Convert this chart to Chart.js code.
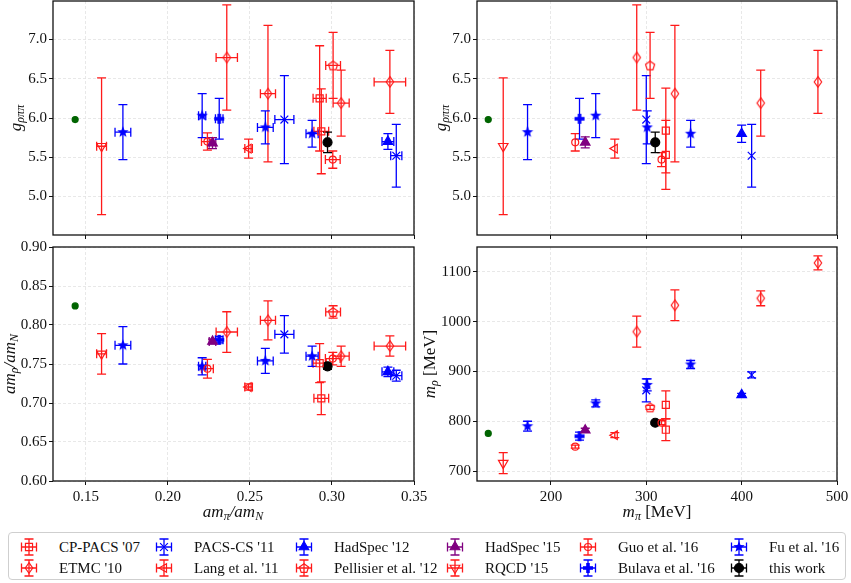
<!DOCTYPE html>
<html>
<head>
<meta charset="utf-8">
<script src="https://cdn.jsdelivr.net/npm/chart.js"></script>
<style>
  body { margin: 0; background: #fff; }
  #wrap { position: relative; width: 851px; height: 583px; overflow: hidden; font-family: "Liberation Serif", serif; }
  #wrap canvas.panel { position: absolute; }
  #legend { position: absolute; left: 8px; top: 532px; width: 838px; height: 48px; border: 1px solid #cfcfcf; border-radius: 4px; box-sizing: border-box; }
  .item { position: absolute; height: 22px; font-size: 15px; line-height: 22px; color: #111; white-space: nowrap; }
  .item canvas { position: absolute; left: 0; top: 0; }
  .item span { position: absolute; left: 42px; top: 0; }
</style>
</head>
<body>
<div id="wrap">
  <canvas class="panel" id="tl" width="420" height="240" style="left:0;top:0"></canvas>
  <canvas class="panel" id="tr" width="431" height="240" style="left:420px;top:0"></canvas>
  <canvas class="panel" id="bl" width="440" height="285" style="left:0;top:240px"></canvas>
  <canvas class="panel" id="br" width="431" height="285" style="left:420px;top:240px"></canvas>
  <div id="legend"></div>
</div>
<script>
// columns: m_pi [MeV], am_pi/am_N, err, g (left), err, g (right), err, am_rho/am_N, err, m_rho [MeV], err
const cpPacs07 = [
  [320.5, 0.2925, 0.0040, 6.25, 0.67, 5.84, 0.54, 0.751, 0.025, 833, 28],
  [320.5, 0.2935, 0.0045, 5.83, 0.54, 5.53, 0.44, 0.706, 0.021, 783, 22]
];
const etmc10 = [
  [290, 0.2359, 0.0065, 6.77, 0.67, 6.77, 0.67, 0.791, 0.026, 980, 31],
  [330, 0.2610, 0.0046, 6.31, 0.87, 6.31, 0.87, 0.806, 0.025, 1033, 31],
  [420, 0.3056, 0.0049, 6.19, 0.42, 6.19, 0.42, 0.760, 0.013, 1047, 15],
  [480, 0.3353, 0.0096, 6.46, 0.40, 6.46, 0.40, 0.773, 0.013, 1118, 14]
];
const pacsCs11 = [
  [300, 0.2710, 0.0058, 5.98, 0.56, 5.98, 0.56, 0.788, 0.024, 862, 23],
  [410.5, 0.3392, 0.0034, 5.52, 0.40, 5.52, 0.40, 0.735, 0.007, 893, 6]
];
const lang11 = [
  [267, 0.2492, 0.0023, 5.61, 0.12, 5.61, 0.12, 0.7205, 0.004, 772, 5]
];
const hadSpec12 = [
  [400, 0.3341, 0.0036, 5.70, 0.10, 5.80, 0.11, 0.740, 0.006, 853, 3]
];
const pellisier12 = [
  [304, 0.3007, 0.0045, 6.67, 0.42, 6.67, 0.42, 0.8167, 0.008, 828, 4]
];
const hadSpec15 = [
  [236, 0.2272, 0.0020, 5.68, 0.07, 5.69, 0.07, 0.779, 0.003, 782, 4]
];
const rqcd15 = [
  [150, 0.1596, 0.0030, 5.64, 0.87, 5.64, 0.87, 0.763, 0.026, 716, 21]
];
const guo16 = [
  [225.5, 0.2241, 0.0036, 5.70, 0.11, 5.69, 0.11, 0.744, 0.012, 749, 3],
  [316, 0.3005, 0.0045, 5.47, 0.11, 5.47, 0.09, 0.757, 0.008, 797, 4]
];
const bulava16 = [
  [230, 0.2313, 0.0023, 5.99, 0.26, 5.99, 0.26, 0.781, 0.004, 770, 8]
];
const fu16 = [
  [175.5, 0.1726, 0.0048, 5.82, 0.35, 5.82, 0.35, 0.774, 0.024, 790, 10],
  [247, 0.2209, 0.0022, 6.03, 0.28, 6.03, 0.28, 0.747, 0.011, 836, 7],
  [301, 0.2594, 0.0048, 5.88, 0.21, 5.88, 0.21, 0.754, 0.016, 873, 12],
  [346.5, 0.2879, 0.0037, 5.80, 0.17, 5.80, 0.17, 0.760, 0.013, 914, 8]
];
const thisWork = [
  [309.4, 0.2973, 0.0010, 5.69, 0.13, 5.69, 0.13, 0.747, 0.004, 797, 3]
];
const physPoint = [
  [134.3, 0.1435, 0, 5.98, 0, 5.98, 0, 0.8244, 0, 775.5, 0]
];

const ratioTicks = [0.15, 0.20, 0.25, 0.30, 0.35];
const mPiTicks = [200, 300, 400, 500];
const gTicks = [5.0, 5.5, 6.0, 6.5, 7.0];
const rhoRatioTicks = [0.60, 0.65, 0.70, 0.75, 0.80, 0.85, 0.90];
const mRhoTicks = [700, 800, 900, 1000, 1100];

const RED = '#ff1a1a', BLUE = '#0000ff', PURPLE = '#800080', BLACK = '#000000', GREEN = '#006400';
const FONT = '"Liberation Serif", "DejaVu Serif", serif';

// marker images for shapes chart.js does not have
function markerCanvas(size, draw) {
  const c = document.createElement('canvas');
  c.width = size; c.height = size;
  draw(c.getContext('2d'), size / 2);
  return c;
}
const starMark = markerCanvas(14, (g, c) => {
  g.beginPath();
  for (let i = 0; i < 10; i++) {
    const r = i % 2 ? 2.6 : 6, a = -Math.PI / 2 + i * Math.PI / 5;
    g.lineTo(c + r * Math.cos(a), c + r * Math.sin(a));
  }
  g.closePath(); g.fillStyle = BLUE; g.fill();
});
const plusMark = markerCanvas(14, (g, c) => {
  const a = 5, b = 1.8;
  g.fillStyle = BLUE;
  g.fillRect(c - a, c - b, 2 * a, 2 * b);
  g.fillRect(c - b, c - a, 2 * b, 2 * a);
});
const pentMark = markerCanvas(14, (g, c) => {
  g.beginPath();
  for (let i = 0; i < 5; i++) {
    const a = -Math.PI / 2 + i * 2 * Math.PI / 5;
    g.lineTo(c + 4.8 * Math.cos(a), c + 0.5 + 4.8 * Math.sin(a));
  }
  g.closePath(); g.strokeStyle = RED; g.lineWidth = 1.2; g.stroke();
});
const diamMark = markerCanvas(14, (g, c) => {
  g.beginPath();
  g.moveTo(c, c - 5.3); g.lineTo(c + 3.7, c); g.lineTo(c, c + 5.3); g.lineTo(c - 3.7, c);
  g.closePath(); g.strokeStyle = RED; g.lineWidth = 1.2; g.stroke();
});

const groups = [
  { label: "CP-PACS '07", rows: cpPacs07, color: RED, style: 'rect', radius: 5, open: true },
  { label: "ETMC '10", rows: etmc10, color: RED, style: diamMark, radius: 5, open: true },
  { label: "PACS-CS '11", rows: pacsCs11, color: BLUE, style: 'crossRot', radius: 5.5, open: true },
  { label: "Lang et al. '11", rows: lang11, color: RED, style: 'triangle', rot: -90, radius: 5, open: true },
  { label: "HadSpec '12", rows: hadSpec12, color: BLUE, style: 'triangle', radius: 5.5 },
  { label: "Pellisier et al. '12", rows: pellisier12, color: RED, style: pentMark, radius: 5, open: true },
  { label: "HadSpec '15", rows: hadSpec15, color: PURPLE, style: 'triangle', radius: 5.5 },
  { label: "RQCD '15", rows: rqcd15, color: RED, style: 'triangle', rot: 180, radius: 5.5, open: true },
  { label: "Guo et al. '16", rows: guo16, color: RED, style: 'circle', radius: 3.5, open: true },
  { label: "Bulava et al. '16", rows: bulava16, color: BLUE, style: plusMark, radius: 5 },
  { label: "Fu et al. '16", rows: fu16, color: BLUE, style: starMark, radius: 5 },
  { label: "this work", rows: thisWork, color: BLACK, style: 'circle', radius: 4.5 },
  { label: "", rows: physPoint, color: GREEN, style: 'circle', radius: 3 }
];

function makeDatasets(xi, xei, yi, yei) {
  return groups.map(gr => ({
    label: gr.label,
    data: gr.rows.map(r => ({ x: r[xi], y: r[yi], xErr: xei == null ? 0 : r[xei], yErr: r[yei] })),
    pointStyle: gr.style,
    pointRotation: gr.rot || 0,
    pointRadius: gr.radius,
    pointBorderWidth: 1.2,
    borderColor: gr.color,
    backgroundColor: gr.open ? 'rgba(0,0,0,0)' : gr.color,
    showLine: false
  }));
}

const errorBars = {
  id: 'errorBars',
  beforeDatasetsDraw(chart) {
    const ctx = chart.ctx, xs = chart.scales.x, ys = chart.scales.y, cap = 4.5;
    chart.data.datasets.forEach((ds, i) => {
      if (!chart.isDatasetVisible(i)) return;
      ctx.save();
      ctx.strokeStyle = ds.borderColor;
      ctx.lineWidth = 1.3;
      ds.data.forEach(p => {
        const px = xs.getPixelForValue(p.x), py = ys.getPixelForValue(p.y);
        ctx.beginPath();
        if (p.yErr) {
          const y1 = ys.getPixelForValue(p.y + p.yErr), y2 = ys.getPixelForValue(p.y - p.yErr);
          ctx.moveTo(px, y1); ctx.lineTo(px, y2);
          ctx.moveTo(px - cap, y1); ctx.lineTo(px + cap, y1);
          ctx.moveTo(px - cap, y2); ctx.lineTo(px + cap, y2);
        }
        if (p.xErr) {
          const x1 = xs.getPixelForValue(p.x - p.xErr), x2 = xs.getPixelForValue(p.x + p.xErr);
          ctx.moveTo(x1, py); ctx.lineTo(x2, py);
          ctx.moveTo(x1, py - cap); ctx.lineTo(x1, py + cap);
          ctx.moveTo(x2, py - cap); ctx.lineTo(x2, py + cap);
        }
        ctx.stroke();
      });
      ctx.restore();
    });
  }
};

function drawMath(ctx, segs, x, y, rotate) {
  ctx.save();
  ctx.translate(x, y);
  if (rotate) ctx.rotate(-Math.PI / 2);
  ctx.fillStyle = '#111';
  ctx.textBaseline = 'middle';
  const fontOf = s => (s[1] ? 'italic ' : '') + (s[2] ? '12px ' : '17px ') + FONT;
  let w = 0;
  const widths = segs.map(s => { ctx.font = fontOf(s); const m = ctx.measureText(s[0]).width; w += m; return m; });
  let cx = -w / 2;
  segs.forEach((s, i) => {
    ctx.font = fontOf(s);
    ctx.fillText(s[0], cx, s[2] ? 4 : 0);
    cx += widths[i];
  });
  ctx.restore();
}

const frameAndTitles = {
  id: 'frameAndTitles',
  afterDraw(chart, args, opts) {
    const ctx = chart.ctx, a = chart.chartArea;
    ctx.save();
    ctx.strokeStyle = '#111';
    ctx.lineWidth = 1.3;
    ctx.strokeRect(a.left, a.top, a.right - a.left, a.bottom - a.top);
    ctx.restore();
    if (opts.yTitle) drawMath(ctx, opts.yTitle, opts.yPos[0], opts.yPos[1], true);
    if (opts.xTitle) drawMath(ctx, opts.xTitle, opts.xPos[0], opts.xPos[1], false);
  }
};

function axis(min, max, ticks, digits, showLabels, size, isX) {
  return {
    type: 'linear', min: min, max: max,
    afterBuildTicks: s => { s.ticks = ticks.map(v => ({ value: v })); },
    afterFit: s => {
      if (isX) s.height = size; else s.width = size;
      // the plot box is fixed by layout padding, not by label overflow
      s.paddingTop = 0; s.paddingBottom = 0; s.paddingLeft = 0; s.paddingRight = 0;
    },
    ticks: {
      display: showLabels,
      color: '#111',
      padding: isX ? 3 : 2,
      font: { family: FONT, size: 15 },
      callback: v => v.toFixed(digits)
    },
    grid: { color: '#e2e2e2', lineWidth: 0.8, tickColor: '#111', tickLength: 4, tickWidth: 1, tickBorderDash: [] },
    border: { display: false, dash: [3, 2] }
  };
}

const gLabel = [['g', 1, 0], ['ρππ', 1, 1]];
const rhoRatioLabel = [['am', 1, 0], ['ρ', 1, 1], ['/am', 1, 0], ['N', 1, 1]];
const mRhoLabel = [['m', 1, 0], ['ρ', 1, 1], [' [MeV]', 0, 0]];
const ratioLabel = [['am', 1, 0], ['π', 1, 1], ['/am', 1, 0], ['N', 1, 1]];
const mPiLabel = [['m', 1, 0], ['π', 1, 1], [' [MeV]', 0, 0]];

function panel(id, datasets, xAxis, yAxis, padding, titles) {
  new Chart(document.getElementById(id), {
    type: 'scatter',
    data: { datasets: datasets },
    options: {
      responsive: false,
      animation: false,
      layout: { padding: padding, autoPadding: false },
      scales: { x: xAxis, y: yAxis },
      plugins: { legend: { display: false }, tooltip: { enabled: false }, frameAndTitles: titles }
    },
    plugins: [errorBars, frameAndTitles]
  });
}

panel('tl', makeDatasets(1, 2, 3, 4),
  axis(0.13, 0.35, ratioTicks, 2, false, 5, true),
  axis(4.51, 7.49, gTicks, 1, true, 53, false),
  { left: 0, right: 6, top: 1, bottom: 0 },
  { yTitle: gLabel, yPos: [17, 118] });

panel('tr', makeDatasets(0, null, 5, 6),
  axis(122.5, 500, mPiTicks, 0, false, 5, true),
  axis(4.51, 7.49, gTicks, 1, true, 57, false),
  { left: 0, right: 14, top: 1, bottom: 0 },
  { yTitle: gLabel, yPos: [22, 118] });

panel('bl', makeDatasets(1, 2, 7, 8),
  axis(0.13, 0.35, ratioTicks, 2, true, 44, true),
  axis(0.60, 0.90, rhoRatioTicks, 2, true, 53, false),
  { left: 0, right: 26, top: 7, bottom: 0 },
  { yTitle: rhoRatioLabel, yPos: [11, 124], xTitle: ratioLabel, xPos: [233, 273] });

panel('br', makeDatasets(0, null, 9, 10),
  axis(122.5, 500, mPiTicks, 0, true, 44, true),
  axis(680, 1150, mRhoTicks, 0, true, 57, false),
  { left: 0, right: 14, top: 7, bottom: 0 },
  { yTitle: mRhoLabel, yPos: [11, 124], xTitle: mPiLabel, xPos: [237, 273] });

// legend with error-bar icons
const legendOrder = [
  ["CP-PACS '07", "ETMC '10"], ["PACS-CS '11", "Lang et al. '11"], ["HadSpec '12", "Pellisier et al. '12"],
  ["HadSpec '15", "RQCD '15"], ["Guo et al. '16", "Bulava et al. '16"], ["Fu et al. '16", "this work"]
];
const legendCols = [20, 155, 295, 446, 579, 730];
const legendRows = [3, 24];
const legendBox = document.getElementById('legend');
legendOrder.forEach((col, ci) => {
  col.forEach((name, ri) => {
    const gr = groups.find(g => g.label === name);
    const item = document.createElement('div');
    item.className = 'item';
    item.style.left = legendCols[ci] - 12 + 'px';
    item.style.top = legendRows[ri] + 'px';
    const c = document.createElement('canvas');
    c.width = 24; c.height = 22;
    const g = c.getContext('2d');
    g.strokeStyle = gr.color; g.lineWidth = 1.3;
    g.beginPath();
    g.moveTo(12, 3); g.lineTo(12, 19); g.moveTo(7.5, 3); g.lineTo(16.5, 3); g.moveTo(7.5, 19); g.lineTo(16.5, 19);
    g.moveTo(4.5, 11); g.lineTo(19.5, 11); g.moveTo(4.5, 6.5); g.lineTo(4.5, 15.5); g.moveTo(19.5, 6.5); g.lineTo(19.5, 15.5);
    g.stroke();
    if (typeof gr.style !== 'string') {
      g.drawImage(gr.style, 12 - gr.style.width / 2, 11 - gr.style.height / 2);
    } else if (Chart.helpers && Chart.helpers.drawPoint) {
      g.fillStyle = gr.open ? 'rgba(0,0,0,0)' : gr.color;
      g.lineWidth = 1.2;
      Chart.helpers.drawPoint(g, { pointStyle: gr.style, rotation: gr.rot || 0, radius: gr.radius, borderWidth: 1.2 }, 12, 11);
    }
    const s = document.createElement('span');
    s.textContent = name;
    item.appendChild(c);
    item.appendChild(s);
    legendBox.appendChild(item);
  });
});
</script>
</body>
</html>
